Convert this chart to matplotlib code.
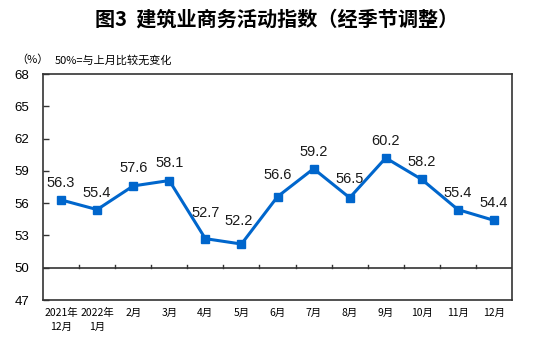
import matplotlib
matplotlib.use("Agg")
import matplotlib.pyplot as plt

plt.rcParams['font.family'] = ['Liberation Sans', 'Noto Sans CJK SC', 'DejaVu Sans']

months = ["2021年\n12月", "2022年\n1月", "2月", "3月", "4月", "5月", "6月",
          "7月", "8月", "9月", "10月", "11月", "12月"]
values = [56.3, 55.4, 57.6, 58.1, 52.7, 52.2, 56.6, 59.2, 56.5, 60.2, 58.2, 55.4, 54.4]
yticks = [47, 50, 53, 56, 59, 62, 65, 68]

# label offsets from the point, in pixels (dx, dy)
offsets = [(0, 17), (0, 17), (0, 18), (0, 18), (0, 26), (-3, 23), (0, 22),
           (0, 17), (0, 19), (0, 17), (0, 17), (0, 17), (0, 17)]

fig = plt.figure(figsize=(5.53, 3.43), dpi=100)
ax = fig.add_axes([43 / 553, 1 - 300 / 343, 469 / 553, 226 / 343])

x = list(range(len(values)))
ax.plot(x, values, color='#0066CC', lw=2.2, marker='s', ms=5.5, zorder=3)
for i, v in enumerate(values):
    dx, dy = offsets[i]
    ax.annotate(f"{v:.1f}", (i, v), xytext=(dx * 0.72, dy * 0.72), textcoords='offset points',
                ha='center', va='center', fontsize=10.5, color='#1a1a1a')

ax.set_xlim(-0.5, len(values) - 0.5)
ax.set_ylim(47, 68)
ax.set_yticks(yticks)
ax.set_yticklabels([str(t) for t in yticks], fontsize=9.5)
ax.tick_params(axis='y', direction='in', length=4, width=1, pad=10, color='#333333')

# category axis crossing at 50
ax.axhline(50, color='#333333', lw=1.2, zorder=2)
for b in range(1, len(values)):
    ax.plot([b - 0.5, b - 0.5], [50, 50.25], color='#333333', lw=1, zorder=2)

ax.set_xticks(x)
ax.set_xticklabels(months, fontsize=7.5, family=['Noto Sans CJK SC'], linespacing=1.4)
ax.tick_params(axis='x', length=0, pad=6)
for s in ax.spines.values():
    s.set_color('#333333')
    s.set_linewidth(1.2)

fig.text(277 / 553, 1 - 19 / 343, "图3  建筑业商务活动指数（经季节调整）", ha='center', va='center',
         fontsize=14.5, fontweight='bold', family=['Noto Sans CJK SC'])
fig.text(16 / 553, 1 - 60 / 343, "（%）", ha='left', va='center', fontsize=8,
         family=['Noto Sans CJK SC'])
fig.text(55 / 553, 1 - 60 / 343, "50%=与上月比较无变化", ha='left', va='center', fontsize=8,
         family=['Noto Sans CJK SC'])

fig.savefig("out.png", dpi=100)
